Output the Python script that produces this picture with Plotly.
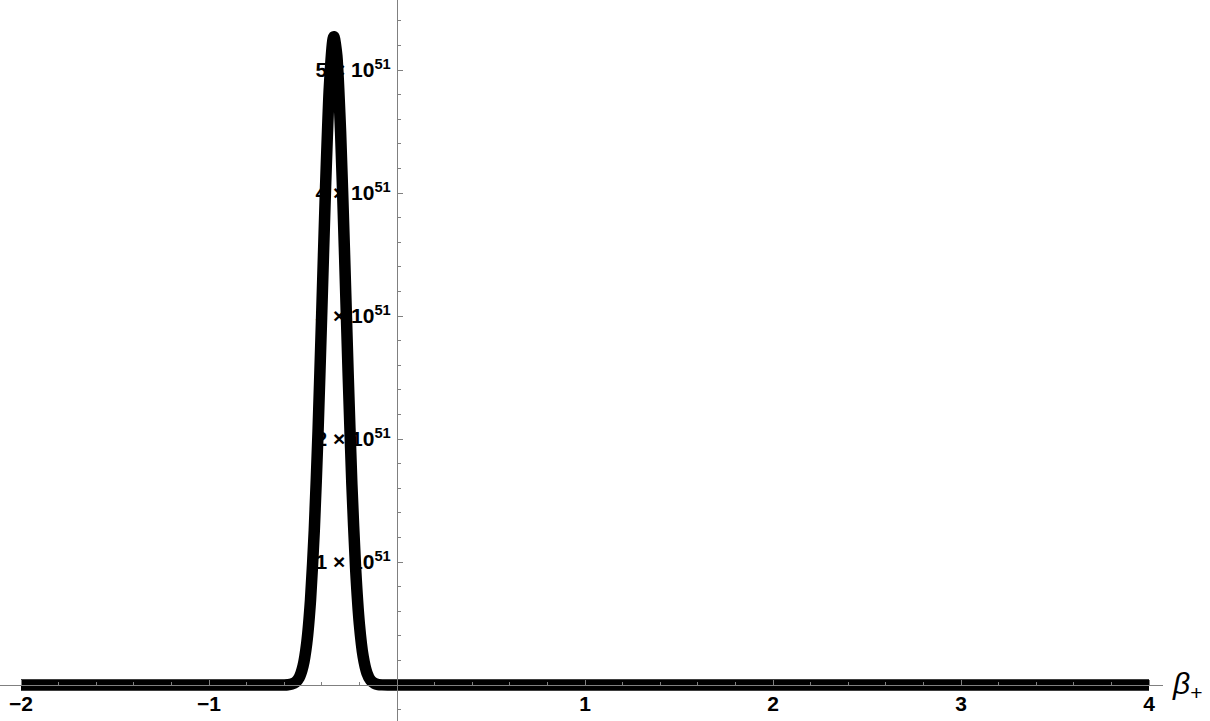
import plotly.graph_objects as go

# beta_+ positions and curve values (in units of 1e51)
beta = [-2.0, -1.0, -0.70, -0.62, -0.60, -0.58, -0.56, -0.54, -0.52, -0.50, -0.48, -0.46,
        -0.44, -0.42, -0.40, -0.38, -0.36, -0.34, -0.335, -0.32, -0.30, -0.28,
        -0.26, -0.24, -0.22, -0.20, -0.18, -0.16, -0.14, -0.12, -0.10, -0.08,
        -0.05, 0.0, 1.0, 2.0, 3.0, 4.0]
value_e51 = [0.0, 0.0, 0.0, 0.0002, 0.0006, 0.0021, 0.0073, 0.022, 0.061, 0.153, 0.342, 0.691,
             1.256, 2.059, 3.042, 4.049, 4.858, 5.253, 5.27, 5.118, 4.494, 3.556,
             2.535, 1.629, 0.943, 0.492, 0.231, 0.098, 0.037, 0.013, 0.0036, 0.001,
             0.0, 0.0, 0.0, 0.0, 0.0, 0.0]

x_tickvals = [-2, -1, 1, 2, 3, 4]
x_ticktext = ["<b>\u22122</b>", "<b>\u22121</b>", "<b>1</b>", "<b>2</b>", "<b>3</b>", "<b>4</b>"]
y_tickvals = [1, 2, 3, 4, 5]
y_ticktext = [f"<b>{v} \u00d7 10<sup>51</sup></b>" for v in y_tickvals]

W, H = 1210, 721
x0_px, px_per_x = 397, 188.0
y0_px, px_per_y = 685, 123.0
x_axis_end_px = 1163

x_range = [-x0_px / px_per_x, (x_axis_end_px - x0_px) / px_per_x]
y_range = [-(H - y0_px) / px_per_y, y0_px / px_per_y]

axis_col = "#808080"
tick_font = dict(family="Liberation Sans, Arial", size=21, color="black")

fig = go.Figure()
fig.add_trace(go.Scatter(
    x=beta, y=value_e51, mode="lines",
    line=dict(color="black", width=11.5, shape="spline", smoothing=0.6),
    hoverinfo="skip", showlegend=False,
))

fig.update_layout(
    width=W, height=H, autosize=False,
    margin=dict(l=0, r=0, t=0, b=0),
    paper_bgcolor="white", plot_bgcolor="white",
    xaxis=dict(
        domain=[0, x_axis_end_px / W], range=x_range,
        anchor="free", position=(H - y0_px) / H,
        showgrid=False, zeroline=False,
        showline=True, linecolor=axis_col, linewidth=1,
        tickmode="array", tickvals=x_tickvals, ticktext=x_ticktext,
        ticks="inside", ticklen=5, tickcolor=axis_col, tickwidth=1,
        minor=dict(ticks="inside", ticklen=3, dtick=0.2, tick0=0, tickcolor=axis_col, showgrid=False),
        tickfont=tick_font, ticklabelstandoff=0,
    ),
    yaxis=dict(
        domain=[0, 1], range=y_range,
        anchor="free", position=x0_px / W,
        showgrid=False, zeroline=False,
        showline=True, linecolor=axis_col, linewidth=1,
        tickmode="array", tickvals=y_tickvals, ticktext=y_ticktext,
        ticks="inside", ticklen=5, tickcolor=axis_col, tickwidth=1,
        minor=dict(ticks="inside", ticklen=3, dtick=0.2, tick0=0, tickcolor=axis_col, showgrid=False),
        tickfont=tick_font, ticklabelstandoff=2,
    ),
    annotations=[dict(
        x=1170 / W, y=(H - y0_px) / H, xref="paper", yref="paper",
        xanchor="left", yanchor="middle", showarrow=False,
        text="<i>\u03b2</i><sub>+</sub>",
        font=dict(family="Liberation Sans, Arial", size=30, color="black"),
    )],
)

fig.write_html("out.html", config={"displayModeBar": False},
               post_script="document.body.style.margin='0';")
